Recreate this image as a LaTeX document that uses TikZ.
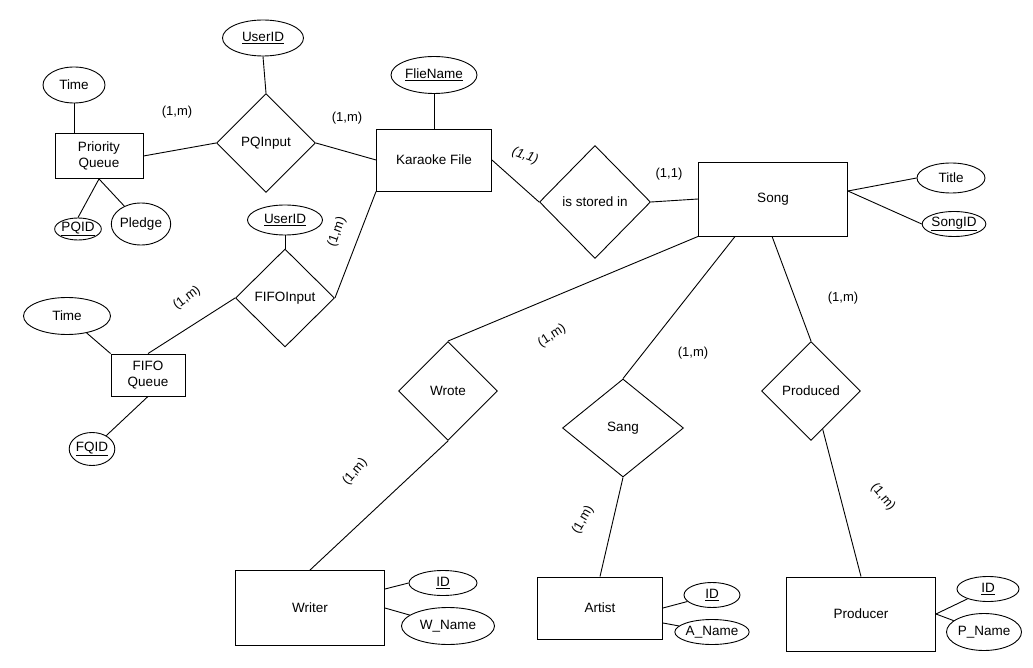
\documentclass[tikz,border=0pt]{standalone}
\usepackage{fontspec}
\setmainfont{Liberation Sans}
\usetikzlibrary{shapes.geometric}
\begin{document}
\begin{tikzpicture}[x=1pt,y=-1pt,
  every node/.style={font=\fontsize{13.5}{16}\selectfont, inner sep=0pt},
  ent/.style={draw, rectangle, line width=0.9pt, align=center},
  rel/.style={draw, diamond, line width=0.9pt, aspect=1},
  attr/.style={draw, ellipse, line width=0.9pt},
  card/.style={font=\fontsize{13}{15}\selectfont},
  conn/.style={line width=0.9pt}]
\useasboundingbox (0,0) rectangle (1033,668);
% entities
\node[ent, minimum width=88, minimum height=45] (pq) at (99,156) {Priority\\Queue};
\node[ent, minimum width=115, minimum height=62] (kf) at (434,160) {Karaoke File};
\node[ent, minimum width=149, minimum height=74] (song) at (773,199) {Song};
\node[ent, minimum width=74, minimum height=42] (fifo) at (148,375) {FIFO\\Queue};
\node[ent, minimum width=149, minimum height=75] (writer) at (310,608) {Writer};
\node[ent, minimum width=125, minimum height=62] (artist) at (600,608) {Artist};
\node[ent, minimum width=149, minimum height=74] (producer) at (861,614) {Producer};
% relationships
\node[rel, minimum width=99, minimum height=99] (pqin) at (266,143) {PQInput};
\node[rel, minimum width=111, minimum height=113] (sis) at (595,202) {is stored in};
\node[rel, minimum width=99, minimum height=98] (fifoin) at (285,298) {FIFOInput};
\node[rel, minimum width=99, minimum height=99] (wrote) at (448,391) {Wrote};
\node[rel, minimum width=121, minimum height=98] (sang) at (623,428) {Sang};
\node[rel, minimum width=99, minimum height=99] (prod) at (811,391) {Produced};
% attributes
\node[attr, minimum width=81, minimum height=36] (puser) at (263,38) {\underline{UserID}};
\node[attr, minimum width=62, minimum height=36] (ptime) at (74,85) {Time};
\node[attr, minimum width=45, minimum height=22] (pqid) at (78,229) {\underline{PQID}};
\node[attr, minimum width=49, minimum height=42] (pledge) at (141,224) {Pledge};
\node[attr, minimum width=86, minimum height=37] (fname) at (434,75) {\underline{FlieName}};
\node[attr, minimum width=68, minimum height=30] (title) at (951,178) {Title};
\node[attr, minimum width=63, minimum height=25] (songid) at (954,224) {\underline{SongID}};
\node[attr, minimum width=75, minimum height=30] (fuser) at (285,220) {\underline{UserID}};
\node[attr, minimum width=87, minimum height=37] (ftime) at (67,316) {Time};
\node[attr, minimum width=38, minimum height=33] (fqid) at (92,449) {\underline{FQID}};
\node[attr, minimum width=68, minimum height=25] (wid) at (443,583) {\underline{ID}};
\node[attr, minimum width=93, minimum height=37] (wname) at (448,626) {W\_Name};
\node[attr, minimum width=56, minimum height=25] (aid) at (712,595) {\underline{ID}};
\node[attr, minimum width=74, minimum height=25] (aname) at (712,632) {A\_Name};
\node[attr, minimum width=62, minimum height=25] (pid) at (988,589) {\underline{ID}};
\node[attr, minimum width=75, minimum height=37] (pname) at (984,632) {P\_Name};
% connectors
\draw[conn] (pq.east) -- (pqin.west);
\draw[conn] (puser.south) -- (pqin.north);
\draw[conn] (ptime.south) -- (ptime.south |- pq.north);
\draw[conn] (pq.south) -- (pqid.north);
\draw[conn] (pq.south) -- (pledge);
\draw[conn] (pqin.east) -- (kf.west);
\draw[conn] (fname.south) -- (kf.north);
\draw[conn] (fifoin.east) -- (kf.south west);
\draw[conn] (kf.east) -- (sis.west);
\draw[conn] (sis.east) -- (song.west);
\coordinate (se) at ([yshift=8pt]song.east);
\draw[conn] (se) -- (title.west);
\draw[conn] (se) -- (songid.west);
\draw[conn] (fuser.south) -- (fifoin.north);
\draw[conn] (fifo.north) -- (fifoin.west);
\draw[conn] (ftime) -- (fifo.north west);
\draw[conn] (fifo.south) -- (fqid);
\draw[conn] (song.south west) -- (wrote.north);
\draw[conn] ([xshift=37pt]song.south west) -- (sang.north);
\draw[conn] ([xshift=74pt]song.south west) -- (prod.north);
\draw[conn] (wrote.south) -- (writer.north);
\draw[conn] (sang.south) -- (artist.north);
\draw[conn] (prod.-73) -- (producer.north);
\draw[conn] ([yshift=19pt]writer.east) -- (wid.west);
\draw[conn] (writer.east) -- (wname);
\draw[conn] (artist.east) -- (aid);
\draw[conn] ([yshift=-15pt]artist.east) -- (aname);
\draw[conn] (producer.east) -- (pid);
\draw[conn] (producer.east) -- (pname);
% cardinalities
\node[card] (c1) at (177,112) {(1,m)};
\node[card] (c2) at (347,118) {(1,m)};
\node[card, rotate=-20] (c3) at (525,156) {\itshape(1,1)};
\node[card] (c4) at (669,174) {(1,1)};
\node[card, rotate=70] (c5) at (337,232) {(1,m)};
\node[card, rotate=37] (c6) at (187,298) {(1,m)};
\node[card, rotate=33] (c7) at (552,336) {(1,m)};
\node[card] (c8) at (693,353) {(1,m)};
\node[card] (c9) at (843,298) {(1,m)};
\node[card, rotate=50] (c10) at (355,472) {(1,m)};
\node[card, rotate=60] (c11) at (583,520) {(1,m)};
\node[card, rotate=-50] (c12) at (883,497) {(1,m)};
\end{tikzpicture}
\end{document}
